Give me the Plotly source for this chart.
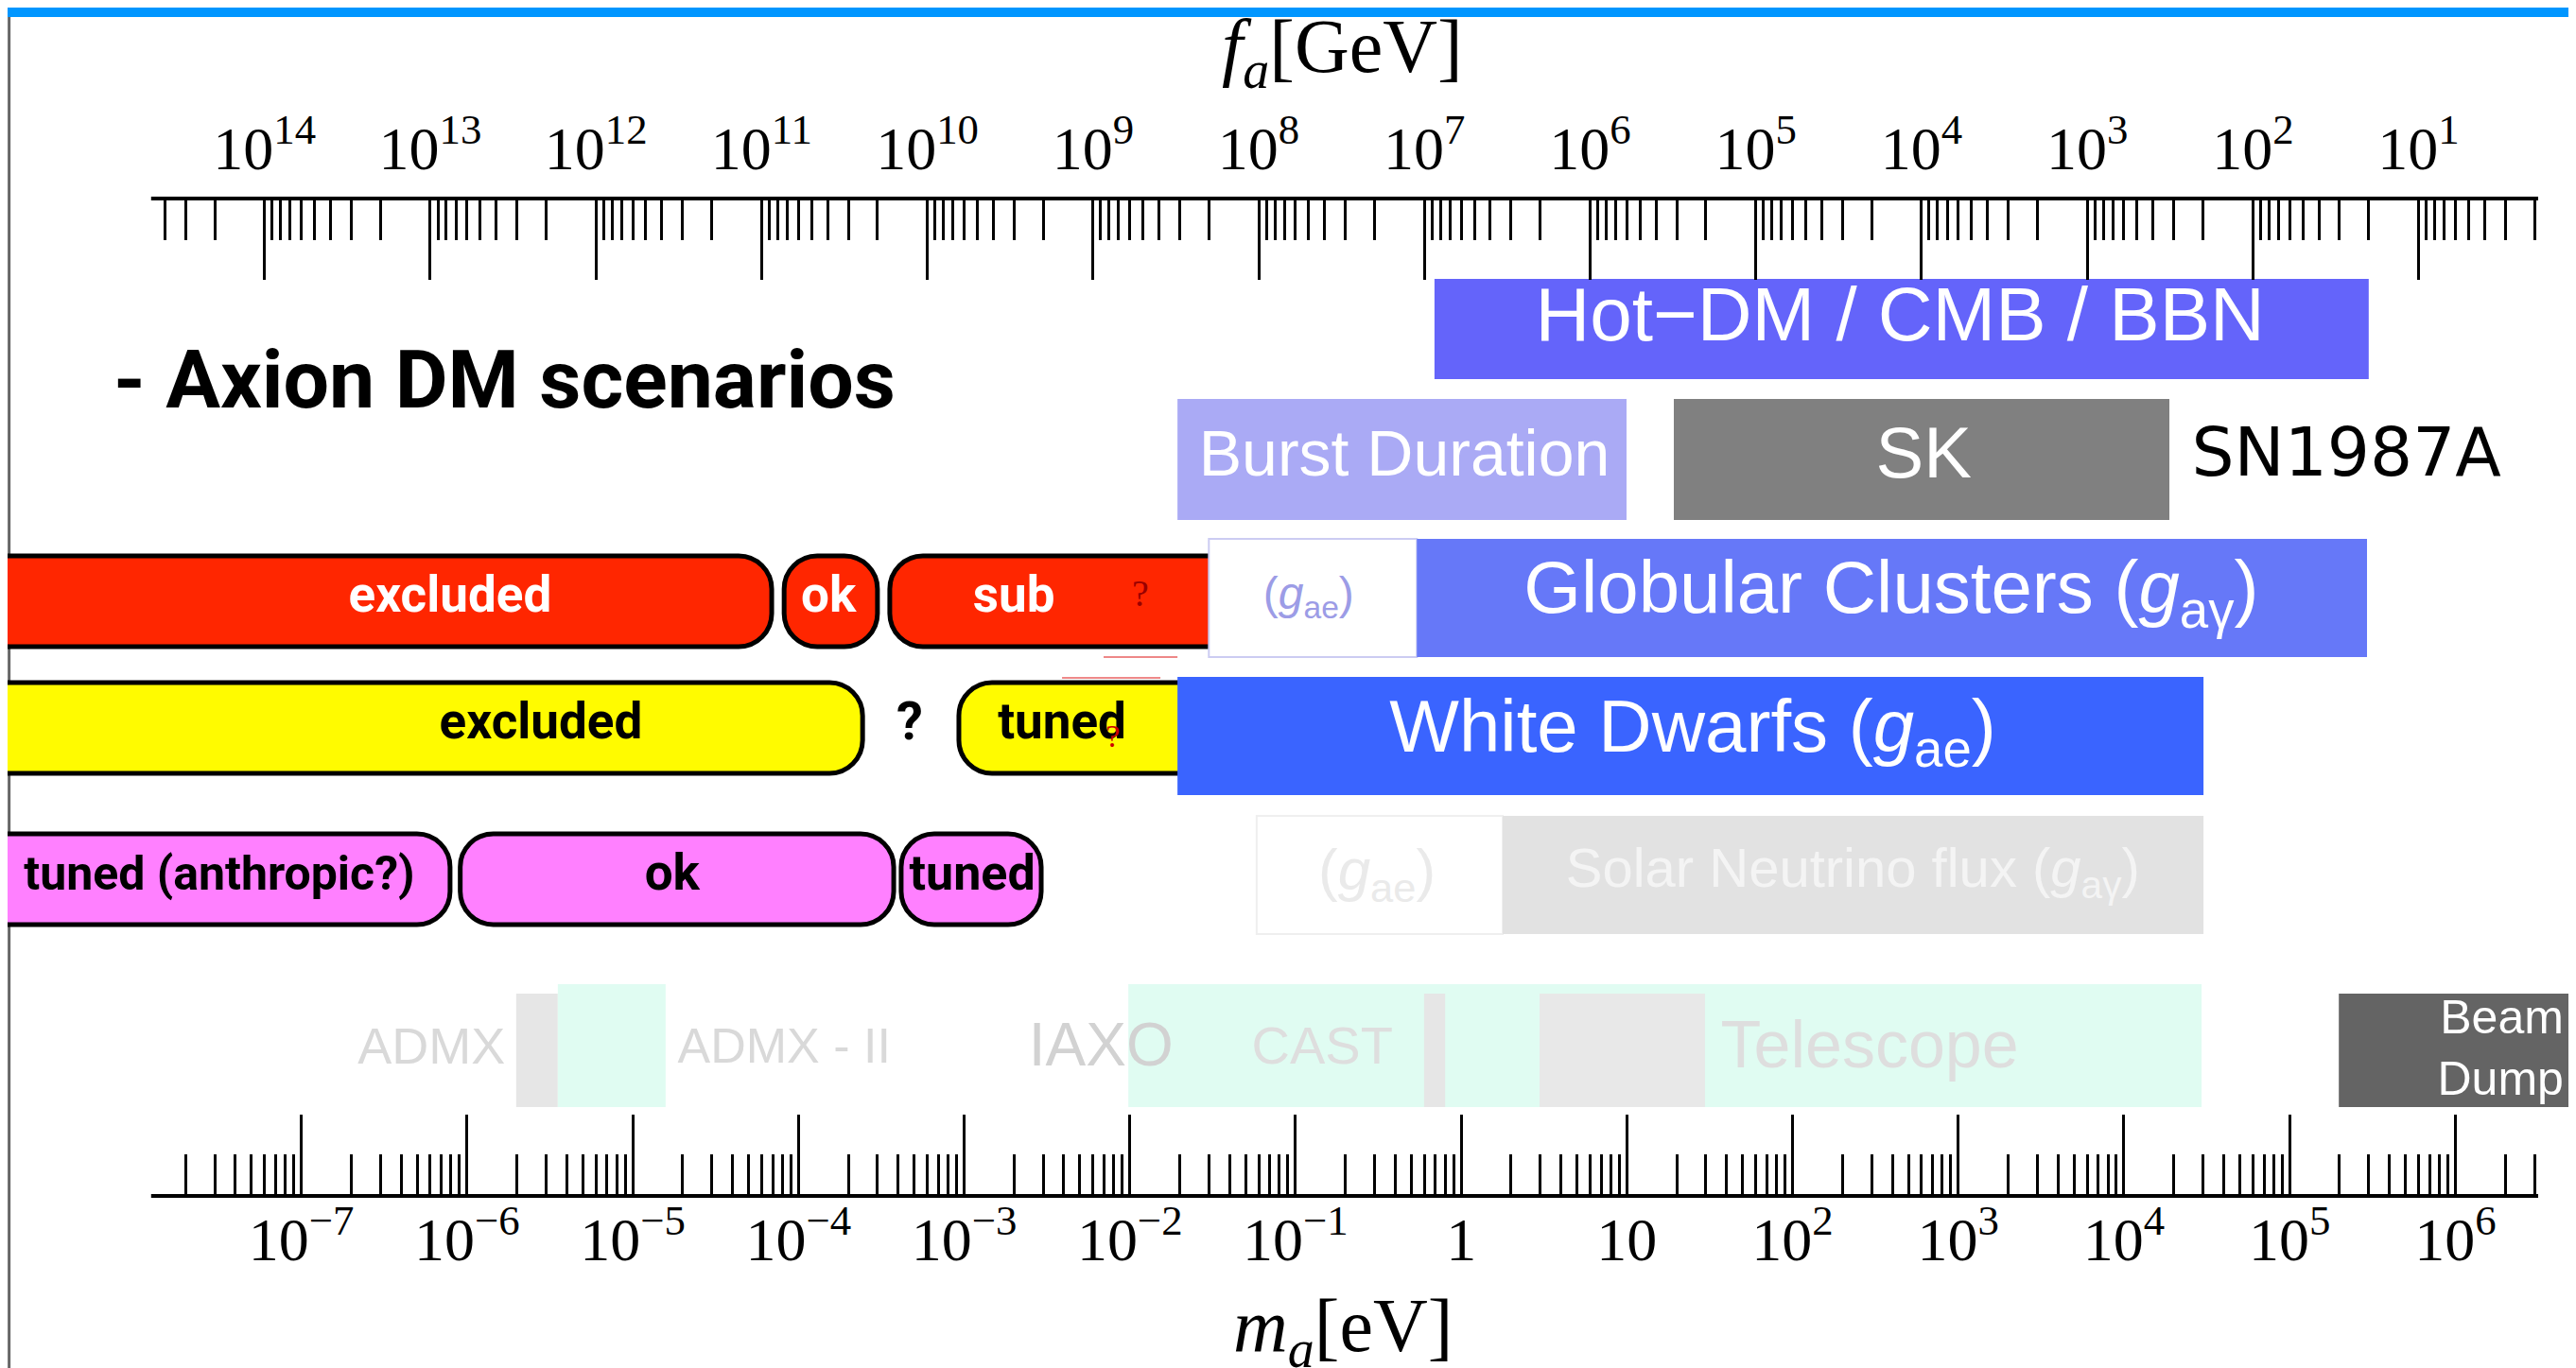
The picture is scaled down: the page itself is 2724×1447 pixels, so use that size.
import numpy as np
import plotly.graph_objects as go

FIG_W, FIG_H = 2724, 1447

# ---------------- axis data ----------------
MA_MAJOR_EXP = list(range(-7, 7))
MA_TICKTEXT = ["10<sup>−7</sup>", "10<sup>−6</sup>", "10<sup>−5</sup>", "10<sup>−4</sup>",
               "10<sup>−3</sup>", "10<sup>−2</sup>", "10<sup>−1</sup>", "1", "10",
               "10<sup>2</sup>", "10<sup>3</sup>", "10<sup>4</sup>", "10<sup>5</sup>", "10<sup>6</sup>"]
FA_MAJOR_EXP = list(range(14, 0, -1))
FA_TICKTEXT = ["10<sup>%d</sup>" % e for e in FA_MAJOR_EXP]
FA_TIMES_MA = 6.0e6              # f_a[GeV] * m_a[eV]
MA_VIEW = (1.687e-9, 5.94e6)     # eV across the full picture width
MA_AXIS_SPAN = (1.24e-8, 3.16e6) # eV, extent of the drawn axis lines

# ---------------- scenario bars (m_a in eV) ----------------
RED_START = [1e-9, 8.2e-5, 3.56e-4]
RED_END = [6.9e-5, 3.0e-4, 5.0e-2]
RED_TEXT = ["excluded", "ok", "sub"]
RED_TEXT_X = [7.9e-7, 1.52e-4, 2.0e-3]

YEL_START = [1e-9, 9.3e-4]
YEL_END = [2.44e-4, 5.0e-2]
YEL_TEXT = ["excluded", "?", "tuned"]
YEL_TEXT_X = [2.79e-6, 4.7e-4, 3.9e-3]

MAG_START = [1e-9, 9.1e-7, 4.17e-4]
MAG_END = [7.9e-7, 3.76e-4, 2.92e-3]
MAG_TEXT = ["tuned (anthropic?)", "ok", "tuned"]
MAG_TEXT_X = [3.2e-8, 1.73e-5, 1.12e-3]

# ---------------- constraint boxes (m_a in eV) ----------------
BOX_NAMES = ["hotdm", "burst", "sk", "gc_gae", "gc", "wd", "sol_gae", "sol",
             "admx_a", "admx_b", "iaxo", "cast_a", "cast_b", "beam"]
BOX_START = [0.69, 0.0194, 19.2, 0.030, 0.54, 0.0194, 0.0583, 1.78,
             1.98e-6, 3.53e-6, 9.8e-3, 0.597, 2.97, 1.98e5]
BOX_END = [3.0e5, 9.95, 1.88e4, 0.54, 2.93e5, 3.02e4, 1.78, 3.02e4,
           3.53e-6, 1.58e-5, 2.94e4, 0.80, 29.6, 1.0e7]

BOX_LABELS = ["Hot−DM / CMB / BBN", "Burst Duration", "SK", "SN1987A",
              "(<i>g</i><sub>ae</sub>)", "Globular Clusters (<i>g</i><sub>aγ</sub>)",
              "White Dwarfs (<i>g</i><sub>ae</sub>)", "(<i>g</i><sub>ae</sub>)",
              "Solar Neutrino flux (<i>g</i><sub>aγ</sub>)",
              "ADMX", "ADMX - II", "IAXO", "CAST", "Telescope"]
BOX_LABEL_X = [445, 0.454, 618, 2.2e5, 0.12, 394, 25, 0.31, 231,
               6.1e-7, 8.2e-5, 6.7e-3, 0.145, 292]
BEAM_LABEL = "Beam<br>Dump"
BEAM_LABEL_X = 4.5e6

# ---------------- layout / style (pixels from top) ----------------
Y_TOP_AXIS, Y_BOT_AXIS = 202, 1257
ROWS = {"hotdm": (287, 393), "sn": (414, 542), "gc": (562, 687), "wd": (708, 833),
        "sol": (855, 980), "helio": (1033, 1163), "helio2": (1043, 1163),
        "red": (580, 676), "yel": (714, 810), "mag": (874, 970)}
BOX_ROW = ["hotdm", "sn", "sn", "gc", "gc", "wd", "sol", "sol",
           "helio2", "helio", "helio", "helio2", "helio2", "helio2"]
BOX_FILL = ["#6464FA", "#AAAAF5", "#808080", "#FFFFFF", "#6678F8", "#3A64FF", "#FFFFFF", "#E2E2E2",
            "#E6E6E6", "#E0FCF2", "#E0FCF2", "#E6E6E6", "#E8E8E8", "#646464"]
BOX_LINE = [None, None, None, "#CCCCF2", None, None, "#EFEFEF", None,
            None, None, None, None, None, None]

LABEL_Y = [332, 478, 478, 477, 624, 620, 767, 917, 915, 1103, 1103, 1103, 1103, 1103]
LABEL_SIZE = [80, 68, 76, 71, 48, 78, 78, 62, 58, 54, 52, 64, 56, 70]
LABEL_COLOR = ["white", "white", "white", "black", "#9C9CE6", "white", "white", "#EAEAEA",
               "#F4F4F4", "#D9D9D9", "#D9D9D9", "#D2D2D2", "#DEDEDE", "#DEDEDE"]
SANS = "Liberation Sans, Arial, Helvetica, sans-serif"
WIDE = "DejaVu Sans, Verdana, sans-serif"
LABEL_FONT = [SANS, SANS, SANS, WIDE] + [SANS] * 10
NARROW = "Roboto, Liberation Sans, sans-serif"
SERIF = "Liberation Serif, Times New Roman, DejaVu Serif, serif"
SCEN_SIZE = {"red": [53, 53, 53], "yel": [53, 56, 53], "mag": [50, 53, 52]}

lv0, lv1 = np.log10(MA_VIEW[0]), np.log10(MA_VIEW[1])
PX_PER_DEC = FIG_W / (lv1 - lv0)


def rounded_path(m0, m1, ya, yb, r_px=35):
    L0, L1 = np.log10(m0), np.log10(m1)
    rx = r_px / PX_PER_DEC
    ry = r_px
    k = 0.5523

    def X(l):
        return "%.8e" % (10 ** l)
    return (f"M {X(L0 + rx)},{ya} L {X(L1 - rx)},{ya} "
            f"C {X(L1 - rx + k * rx)},{ya} {X(L1)},{ya + ry - k * ry} {X(L1)},{ya + ry} "
            f"L {X(L1)},{yb - ry} "
            f"C {X(L1)},{yb - ry + k * ry} {X(L1 - rx + k * rx)},{yb} {X(L1 - rx)},{yb} "
            f"L {X(L0 + rx)},{yb} "
            f"C {X(L0 + rx - k * rx)},{yb} {X(L0)},{yb - ry + k * ry} {X(L0)},{yb - ry} "
            f"L {X(L0)},{ya + ry} "
            f"C {X(L0)},{ya + ry - k * ry} {X(L0 + rx - k * rx)},{ya} {X(L0 + rx)},{ya} Z")


shapes = []
shapes.append(dict(type="rect", xref="paper", yref="paper", x0=0, x1=1, y0=1 - 10 / FIG_H, y1=1,
                   fillcolor="#0096FF", line=dict(width=0), layer="below"))
shapes.append(dict(type="line", xref="paper", yref="paper", x0=0.0006, x1=0.0006, y0=0, y1=1 - 10 / FIG_H,
                   line=dict(color="#666666", width=3), layer="below"))

for starts, ends, row, fill in [(RED_START, RED_END, "red", "#FF2600"),
                                (YEL_START, YEL_END, "yel", "#FFFB00"),
                                (MAG_START, MAG_END, "mag", "#FF80FF")]:
    ya, yb = ROWS[row]
    for m0, m1 in zip(starts, ends):
        shapes.append(dict(type="path", xref="x", yref="y", path=rounded_path(m0, m1, ya, yb),
                           fillcolor=fill, line=dict(color="black", width=5), layer="below"))

for m0, m1, yy in [(6.95e-3, 0.0194, 687), (3.9e-3, 0.0153, 709)]:
    shapes.append(dict(type="line", xref="x", yref="y", x0=m0, x1=m1, y0=yy, y1=yy,
                       line=dict(color="#EE8888", width=2), layer="below"))

for name, m0, m1, row, fill, lc in zip(BOX_NAMES, BOX_START, BOX_END, BOX_ROW, BOX_FILL, BOX_LINE):
    ya, yb = ROWS[row]
    shapes.append(dict(type="rect", xref="x", yref="y", x0=m0, x1=m1, y0=ya, y1=yb,
                       fillcolor=fill, line=dict(color=lc if lc else fill, width=2 if lc else 0),
                       layer="below"))

for yy in (Y_TOP_AXIS, Y_BOT_AXIS):
    shapes.append(dict(type="line", xref="x", yref="paper", x0=MA_AXIS_SPAN[0], x1=MA_AXIS_SPAN[1],
                       y0=1 - yy / FIG_H, y1=1 - yy / FIG_H, line=dict(color="black", width=4),
                       layer="above"))

fig = go.Figure()

for texts, xs, row, color in [(RED_TEXT, RED_TEXT_X, "red", "white"),
                              (YEL_TEXT, YEL_TEXT_X, "yel", "black"),
                              (MAG_TEXT, MAG_TEXT_X, "mag", "black")]:
    ya, yb = ROWS[row]
    fig.add_trace(go.Scatter(x=xs, y=[(ya + yb) / 2 - 2] * len(xs), mode="text", text=texts,
                             textfont=dict(family=NARROW, size=SCEN_SIZE[row], color=color,
                                           weight="bold"),
                             hoverinfo="skip", showlegend=False, cliponaxis=False))

fig.add_trace(go.Scatter(x=[0.0116, 7.9e-3], y=[623, 773], mode="text", text=["?", "?"],
                         textfont=dict(family=SERIF, size=[40, 34], color=["#990000", "#CC0000"]),
                         hoverinfo="skip", showlegend=False, cliponaxis=False))

fig.add_trace(go.Scatter(x=BOX_LABEL_X, y=LABEL_Y, mode="text", text=BOX_LABELS,
                         textfont=dict(family=LABEL_FONT, size=LABEL_SIZE, color=LABEL_COLOR),
                         hoverinfo="skip", showlegend=False, cliponaxis=False))
fig.add_trace(go.Scatter(x=[BEAM_LABEL_X], y=[1105], mode="text", text=[BEAM_LABEL],
                         textposition="middle left",
                         textfont=dict(family=SANS, size=50, color="white"),
                         hoverinfo="skip", showlegend=False, cliponaxis=False))

fig.add_trace(go.Scatter(x=[1e7], y=[700], xaxis="x2", mode="markers",
                         marker=dict(size=1, opacity=0), hoverinfo="skip", showlegend=False))


def minor_vals(span_lo, span_hi, e_lo, e_hi):
    vals = []
    for e in range(e_lo, e_hi + 1):
        for k in range(2, 10):
            v = k * 10.0 ** e
            if span_lo <= v <= span_hi:
                vals.append(v)
    return vals


ma_minor = minor_vals(MA_AXIS_SPAN[0], MA_AXIS_SPAN[1], -9, 7)
fa_span = (FA_TIMES_MA / MA_AXIS_SPAN[1], FA_TIMES_MA / MA_AXIS_SPAN[0])
fa_minor = minor_vals(fa_span[0], fa_span[1], -1, 15)

tickfont = dict(family=SERIF, size=64, color="black")
common = dict(type="log", showgrid=False, zeroline=False, showline=False, ticks="inside",
              tickwidth=2.5, tickcolor="black", tickfont=tickfont, autorange=False, fixedrange=True)

fig.update_layout(
    width=FIG_W, height=FIG_H,
    margin=dict(l=0, r=0, t=0, b=0),
    paper_bgcolor="white", plot_bgcolor="white",
    hovermode=False, showlegend=False,
    xaxis=dict(**common, domain=[0, 1], anchor="y", side="bottom",
               range=[lv0, lv1], ticklen=86,
               tickmode="array", tickvals=[10.0 ** e for e in MA_MAJOR_EXP], ticktext=MA_TICKTEXT,
               ticklabelstandoff=3,
               minor=dict(tickmode="array", tickvals=ma_minor, ticks="inside", ticklen=44,
                          tickwidth=2.5, tickcolor="black", showgrid=False)),
    xaxis2=dict(**common, overlaying="x", anchor="y", side="top",
                range=[np.log10(FA_TIMES_MA) - lv0, np.log10(FA_TIMES_MA) - lv1], ticklen=86,
                tickmode="array", tickvals=[10.0 ** e for e in FA_MAJOR_EXP], ticktext=FA_TICKTEXT,
                ticklabelstandoff=17,
                minor=dict(tickmode="array", tickvals=fa_minor, ticks="inside", ticklen=44,
                           tickwidth=2.5, tickcolor="black", showgrid=False)),
    yaxis=dict(domain=[1 - Y_BOT_AXIS / FIG_H, 1 - Y_TOP_AXIS / FIG_H], range=[Y_BOT_AXIS, Y_TOP_AXIS],
               autorange=False, visible=False, fixedrange=True),
    shapes=shapes,
    annotations=[
        dict(xref="paper", yref="paper", x=1411 / FIG_W, y=1 - 47 / FIG_H, showarrow=False,
             xanchor="center", yanchor="middle",
             text="<i>f<sub>a</sub></i>[GeV]", font=dict(family=SERIF, size=80, color="black")),
        dict(xref="paper", yref="paper", x=1412 / FIG_W, y=1 - 1400 / FIG_H, showarrow=False,
             xanchor="center", yanchor="middle",
             text="<i>m<sub>a</sub></i>[eV]", font=dict(family=SERIF, size=80, color="black")),
        dict(xref="paper", yref="paper", x=110 / FIG_W, y=1 - 393 / FIG_H, showarrow=False,
             xanchor="left", yanchor="middle", text="- Axion DM scenarios",
             font=dict(family=NARROW, size=86, color="black", weight="bold")),
    ],
)

fig.write_html("out.html")
